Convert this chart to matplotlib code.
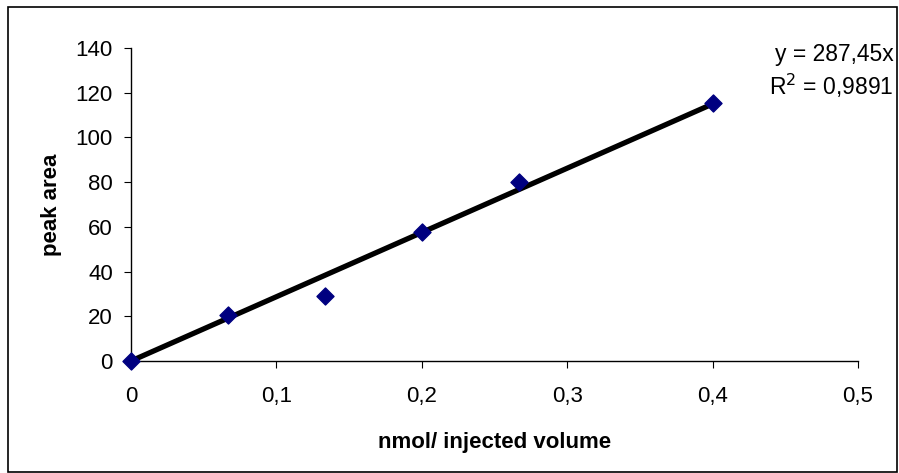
import matplotlib
matplotlib.use("Agg")
import matplotlib.pyplot as plt
import numpy as np
from matplotlib.patches import Rectangle
from matplotlib.ticker import FuncFormatter

# calibration data
nmol = [0.0, 0.0667, 0.1333, 0.2, 0.2667, 0.4]
peak_area = [0.0, 20.6, 29.0, 57.5, 80.2, 115.3]
slope = 287.45
r2_text = "0,9891"

x_ticks = [0, 0.1, 0.2, 0.3, 0.4, 0.5]
y_ticks = [0, 20, 40, 60, 80, 100, 120, 140]

plt.rcParams['font.family'] = ['Liberation Sans', 'DejaVu Sans']

fig = plt.figure(figsize=(8.99, 4.73), dpi=100)
ax = fig.add_axes([131/899, 1 - 361/473, (858 - 131)/899, (361 - 48)/473])

# frame round the whole chart
fig.patches.append(Rectangle((8/899, 1.5/473), 889/899, 464.5/473, transform=fig.transFigure,
                             fill=False, edgecolor='black', linewidth=1.2))

# trend line through origin
fit_x = np.array([0.0, max(nmol)])
ax.plot(fit_x, slope * fit_x, color='black', linewidth=3.8, zorder=2,
        solid_capstyle='butt')
ax.scatter(nmol, peak_area, marker='D', s=75, color='#000080', zorder=3, clip_on=False)

ax.set_xlim(0, 0.5)
ax.set_ylim(0, 140)
ax.set_xticks(x_ticks)
ax.set_yticks(y_ticks)

fmt = FuncFormatter(lambda v, p: ('%g' % round(v, 3)).replace('.', ','))
ax.xaxis.set_major_formatter(fmt)
ax.yaxis.set_major_formatter(fmt)

for s in ['top', 'right']:
    ax.spines[s].set_visible(False)
for s in ['left', 'bottom']:
    ax.spines[s].set_linewidth(1.0)

ax.tick_params(axis='x', direction='out', length=5, width=0.8, pad=13, labelsize=16)
ax.tick_params(axis='y', direction='out', length=5, width=0.8, pad=8, labelsize=16)

ax.set_xlabel('nmol/ injected volume', fontsize=16, fontweight='bold', labelpad=18)
ax.set_ylabel('peak area', fontsize=16, fontweight='bold', labelpad=10)

fig.text(894/899, 1 - 55/473, 'y = 287,45x', ha='right', va='center', fontsize=16.5)
fig.text(894/899, 1 - 86/473, r'R$^2$ = ' + r2_text, ha='right', va='center', fontsize=16.5)

fig.savefig('out.png', dpi=100)
